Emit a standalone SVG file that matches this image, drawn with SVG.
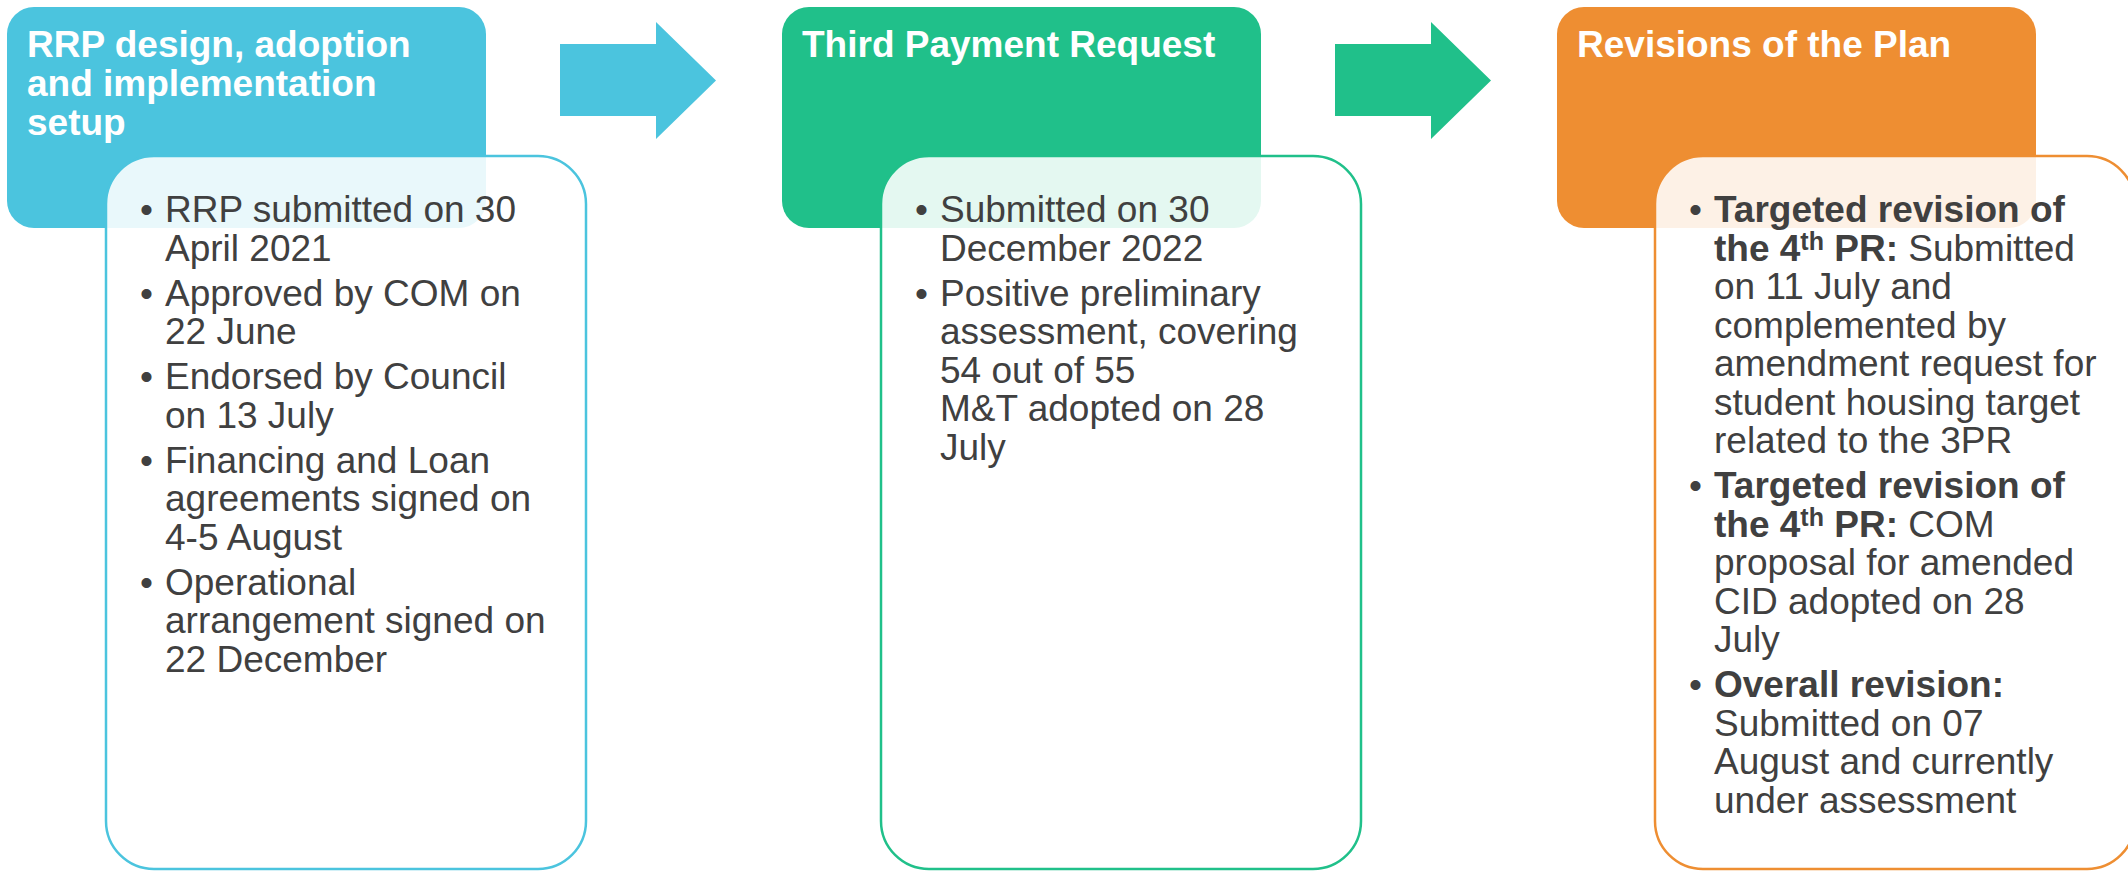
<svg xmlns="http://www.w3.org/2000/svg" width="2128" height="872" viewBox="0 0 2128 872">
<style>
.title{font-family:"Liberation Sans",Arial,sans-serif;font-weight:bold;font-size:37px;fill:#ffffff}
.body{font-family:"Liberation Sans",Arial,sans-serif;font-size:37px;fill:#404040}
.b{font-weight:bold}
.card{fill:#ffffff;fill-opacity:0.88;stroke-width:2.5}
.blue{fill:#4BC4DE}
.green{fill:#20C08A}
.orange{fill:#EE8E32}
</style>
<rect width="2128" height="872" fill="#ffffff"/>
<g id="connectors">
<path class="blue" d="M560 44 H656 V22 L716 80.5 L656 139 V116 H560 Z"/>
<path class="green" d="M1335 44 H1431 V22 L1491 80.5 L1431 139 V116 H1335 Z"/>
</g>
<g id="node-rrp">
<rect class="blue" x="7" y="7" width="479" height="221" rx="27"/>
<text class="title"><tspan x="27" y="57">RRP design, adoption</tspan><tspan x="27" y="96">and implementation</tspan><tspan x="27" y="135">setup</tspan></text>
<rect class="card" x="106" y="156" width="480" height="713" rx="48" stroke="#4BC4DE"/>
<text class="body">
<tspan x="140" y="222">•</tspan><tspan x="165" y="222">RRP submitted on 30</tspan><tspan x="165" y="260.5">April 2021</tspan>
<tspan x="140" y="305.5">•</tspan><tspan x="165" y="305.5">Approved by COM on</tspan><tspan x="165" y="344">22 June</tspan>
<tspan x="140" y="389">•</tspan><tspan x="165" y="389">Endorsed by Council</tspan><tspan x="165" y="427.5">on 13 July</tspan>
<tspan x="140" y="472.5">•</tspan><tspan x="165" y="472.5">Financing and Loan</tspan><tspan x="165" y="511">agreements signed on</tspan><tspan x="165" y="549.5">4-5 August</tspan>
<tspan x="140" y="594.5">•</tspan><tspan x="165" y="594.5">Operational</tspan><tspan x="165" y="633">arrangement signed on</tspan><tspan x="165" y="671.5">22 December</tspan>
</text>
</g>
<g id="node-3pr">
<rect class="green" x="782" y="7" width="479" height="221" rx="27"/>
<text class="title" x="802" y="57">Third Payment Request</text>
<rect class="card" x="881" y="156" width="480" height="713" rx="48" stroke="#20C08A"/>
<text class="body">
<tspan x="915" y="222">•</tspan><tspan x="940" y="222">Submitted on 30</tspan><tspan x="940" y="260.5">December 2022</tspan>
<tspan x="915" y="305.5">•</tspan><tspan x="940" y="305.5">Positive preliminary</tspan><tspan x="940" y="344">assessment, covering</tspan><tspan x="940" y="382.5">54 out of 55</tspan><tspan x="940" y="421">M&amp;T adopted on 28</tspan><tspan x="940" y="459.5">July</tspan>
</text>
</g>
<g id="node-revisions">
<rect class="orange" x="1557" y="7" width="479" height="221" rx="27"/>
<text class="title" x="1577" y="57">Revisions of the Plan</text>
<rect class="card" x="1655" y="156" width="480" height="713" rx="48" stroke="#EE8E32"/>
<text class="body">
<tspan x="1689" y="222">•</tspan><tspan x="1714" y="222" class="b">Targeted revision of</tspan>
<tspan x="1714" y="260.5" class="b">the 4</tspan><tspan class="b" font-size="25" dy="-11">th</tspan><tspan class="b" dy="11"> PR:</tspan><tspan> Submitted</tspan>
<tspan x="1714" y="299">on 11 July and</tspan><tspan x="1714" y="337.5">complemented by</tspan><tspan x="1714" y="376">amendment request for</tspan><tspan x="1714" y="414.5">student housing target</tspan><tspan x="1714" y="453">related to the 3PR</tspan>
<tspan x="1689" y="498">•</tspan><tspan x="1714" y="498" class="b">Targeted revision of</tspan>
<tspan x="1714" y="536.5" class="b">the 4</tspan><tspan class="b" font-size="25" dy="-11">th</tspan><tspan class="b" dy="11"> PR:</tspan><tspan> COM</tspan>
<tspan x="1714" y="575">proposal for amended</tspan><tspan x="1714" y="613.5">CID adopted on 28</tspan><tspan x="1714" y="652">July</tspan>
<tspan x="1689" y="697">•</tspan><tspan x="1714" y="697" class="b">Overall revision:</tspan>
<tspan x="1714" y="735.5">Submitted on 07</tspan><tspan x="1714" y="774">August and currently</tspan><tspan x="1714" y="812.5">under assessment</tspan>
</text>
</g>
</svg>
